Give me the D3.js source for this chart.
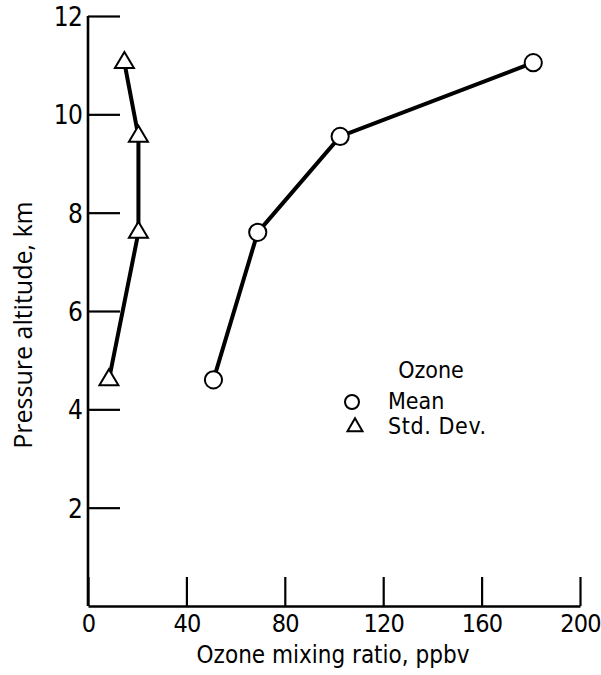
<!DOCTYPE html>
<html>
<head>
<meta charset="utf-8">
<script src="https://cdn.jsdelivr.net/npm/d3@7"></script>
<style>
  html, body { margin: 0; padding: 0; background: #fff; }
  svg { display: block; }
  .tick text, .xtitle, .legend text {
    font-family: 'Liberation Sans Narrow', 'DejaVu Sans Condensed', 'Roboto Condensed', sans-serif;
    font-stretch: condensed;
    fill: #000;
  }
  .ytitle { font-family: 'Open Sans', 'Noto Sans', sans-serif; fill: #000; }
</style>
</head>
<body>
<svg id="chart" width="601" height="675"></svg>
<script>
// Ozone profile: pressure altitude (km) vs. mixing ratio (ppbv)
const altitude    = [4.6, 7.6, 9.55, 11.05];
const meanOzone   = [51, 69, 102.5, 181];
const stdDevOzone = [8.5, 20.5, 20.5, 14.8];

const xTicks = [0, 40, 80, 120, 160, 200];
const yTicks = [2, 4, 6, 8, 10, 12];

const legendTitle = "Ozone";
const seriesNames = ["Mean", "Std. Dev."];

const svg = d3.select("#chart");

const x = d3.scaleLinear().domain([0, 200]).range([88, 580]);
const y = d3.scaleLinear().domain([0, 12]).range([606, 16]);

// x axis: ticks point up into the plot
const xAxis = svg.append("g")
  .attr("transform", `translate(0,${y(0)})`)
  .call(d3.axisBottom(x).tickValues(xTicks).tickSizeInner(-29).tickSizeOuter(0).tickPadding(8));
xAxis.select(".domain").attr("stroke", "#000").attr("stroke-width", 2.6);
xAxis.selectAll(".tick line").attr("stroke", "#000").attr("stroke-width", 2.2);
xAxis.selectAll(".tick text").attr("font-size", 25).attr("letter-spacing", -0.8)
  .attr("dy", "0.72em");

// y axis: ticks point right into the plot
const yAxis = svg.append("g")
  .attr("transform", `translate(${x(0)},0)`)
  .call(d3.axisLeft(y).tickValues(yTicks).tickSizeInner(-32).tickSizeOuter(0).tickPadding(6));
yAxis.select(".domain").attr("stroke", "#000").attr("stroke-width", 2.6)
  .attr("d", `M0,${y(0)}V${y(12)}`);
yAxis.selectAll(".tick line").attr("stroke", "#000").attr("stroke-width", 2.2);
yAxis.selectAll(".tick text").attr("font-size", 26).attr("letter-spacing", -0.8)
  .attr("dy", "0.36em");

// axis titles
svg.append("text").attr("class", "xtitle")
  .attr("x", 333).attr("y", 663)
  .attr("text-anchor", "middle").attr("font-size", 24)
  .text("Ozone mixing ratio, ppbv");

svg.append("text").attr("class", "ytitle")
  .attr("transform", `translate(32,${325}) rotate(-90)`)
  .attr("text-anchor", "middle").attr("font-size", 25)
  .text("Pressure altitude, km");

// series
const line = d3.line().x(d => x(d[0])).y(d => y(d[1]));
const meanPts = meanOzone.map((v, i) => [v, altitude[i]]);
const sdPts = stdDevOzone.map((v, i) => [v, altitude[i]]);

svg.append("path").datum(meanPts).attr("d", line)
  .attr("fill", "none").attr("stroke", "#000").attr("stroke-width", 4);
svg.append("path").datum(sdPts).attr("d", line)
  .attr("fill", "none").attr("stroke", "#000").attr("stroke-width", 4);

function trianglePath(w, h) {
  // centroid-centred triangle
  return `M0,${-2 * h / 3}L${w / 2},${h / 3}L${-w / 2},${h / 3}Z`;
}

svg.append("g").selectAll("circle").data(meanPts).join("circle")
  .attr("cx", d => x(d[0])).attr("cy", d => y(d[1])).attr("r", 8.6)
  .attr("fill", "#fff").attr("stroke", "#000").attr("stroke-width", 2);

svg.append("g").selectAll("path").data(sdPts).join("path")
  .attr("transform", d => `translate(${x(d[0])},${y(d[1])})`)
  .attr("d", trianglePath(19, 16))
  .attr("fill", "#fff").attr("stroke", "#000").attr("stroke-width", 2);

// legend
const legend = svg.append("g").attr("class", "legend");
legend.append("text").attr("x", 431).attr("y", 378)
  .attr("text-anchor", "middle").attr("font-size", 23).text(legendTitle);
legend.append("circle").attr("cx", 352).attr("cy", 402).attr("r", 7)
  .attr("fill", "#fff").attr("stroke", "#000").attr("stroke-width", 2);
legend.append("path").attr("transform", "translate(355,427)")
  .attr("d", trianglePath(15, 13))
  .attr("fill", "#fff").attr("stroke", "#000").attr("stroke-width", 2);
legend.append("text").attr("x", 388).attr("y", 409).attr("font-size", 23).text(seriesNames[0]);
legend.append("text").attr("x", 388).attr("y", 434).attr("font-size", 23)
  .attr("letter-spacing", 0.6).text(seriesNames[1]);
</script>
</body>
</html>
